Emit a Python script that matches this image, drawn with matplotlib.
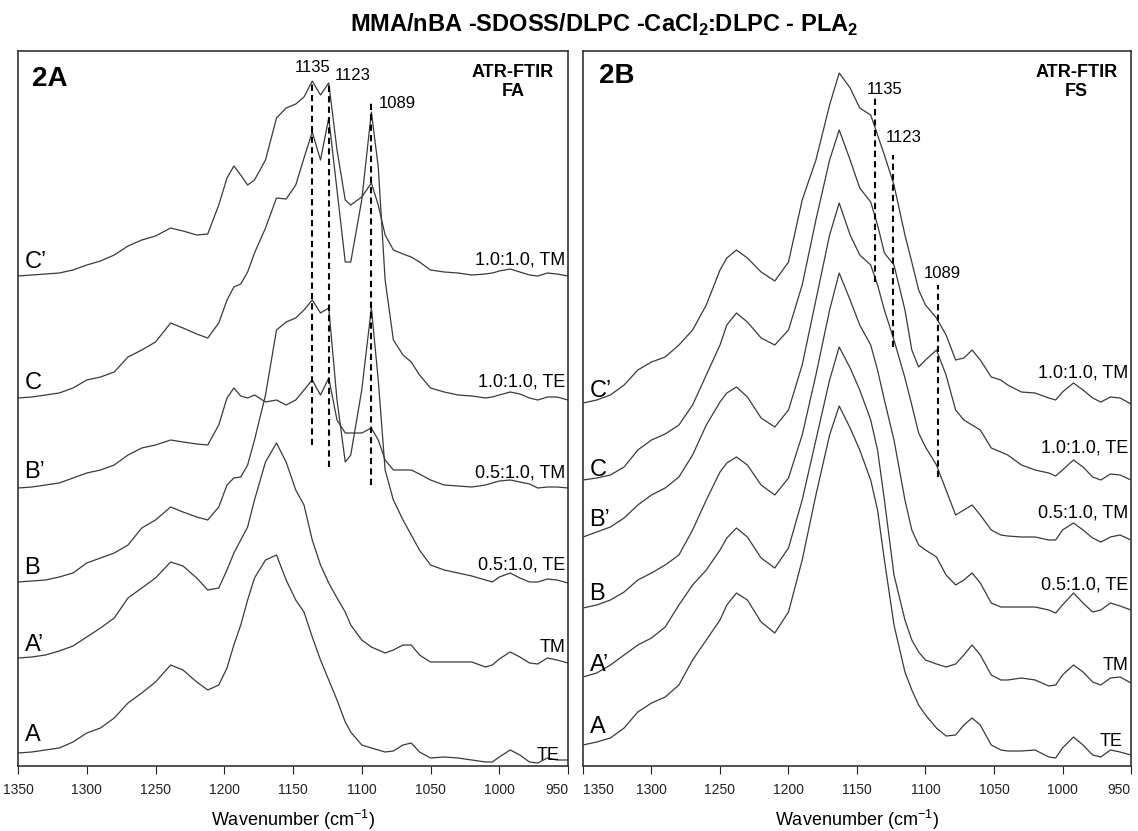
import matplotlib.pyplot as plt

plt.rcParams['font.family'] = ['Liberation Sans', 'DejaVu Sans']
plt.rcParams['mathtext.fontset'] = 'custom'
plt.rcParams['mathtext.rm'] = 'Liberation Sans'
plt.rcParams['mathtext.bf'] = 'Liberation Sans:bold'

# ---- panel 2A (ATR-FTIR, FA side) ----
wn_a = [1350, 1340, 1330, 1320, 1310, 1300, 1290, 1280, 1270, 1260,
        1250, 1239, 1230, 1220, 1212, 1204, 1198, 1193, 1188, 1183,
        1178, 1170, 1162, 1155, 1148, 1142, 1136, 1130, 1124, 1118,
        1112, 1108, 1100, 1093, 1088, 1083, 1077, 1070, 1064, 1058,
        1050, 1040, 1030, 1020, 1010, 1005, 1000, 992, 985, 978,
        972, 965, 958, 950]

a_C2 = [0, 1, 2, 3, 6, 11, 15, 21, 30, 36,
        40, 48, 45, 41, 42, 71, 98, 110, 101, 91,
        96, 116, 158, 168, 172, 179, 195, 181, 193, 126,
        76, 71, 79, 93, 71, 41, 26, 22, 19, 14,
        6, 4, 3, 1, 2, 3, 5, 7, 4, 1,
        0, 3, 2, 0]
a_C = [0, 1, 3, 5, 10, 18, 21, 26, 41, 48,
       56, 75, 70, 64, 60, 75, 98, 111, 114, 126,
       145, 170, 200, 199, 213, 240, 266, 238, 280, 208,
       136, 136, 198, 286, 231, 118, 58, 43, 36, 23,
       10, 6, 3, 2, 0, 1, 3, 6, 4, 0,
       -2, 1, 1, -2]
a_B2 = [0, 1, 3, 5, 10, 15, 18, 23, 33, 40,
        43, 48, 46, 44, 43, 63, 90, 100, 92, 90,
        93, 86, 88, 83, 88, 98, 108, 93, 110, 68,
        55, 55, 55, 60, 48, 28, 18, 18, 18, 14,
        8, 3, 2, 1, 3, 5, 7, 8, 6, 4,
        0, 1, 1, 0]
a_B = [0, 1, 2, 5, 9, 19, 24, 29, 37, 54,
       62, 75, 70, 65, 62, 75, 97, 104, 105, 117,
       142, 187, 252, 260, 264, 272, 282, 269, 274, 182,
       120, 127, 192, 274, 202, 112, 82, 62, 47, 32,
       17, 12, 9, 6, 2, 0, 5, 9, 4, 0,
       0, 3, 2, -1]
a_A2 = [0, 1, 3, 7, 12, 21, 30, 40, 60, 70,
        80, 96, 92, 80, 68, 70, 88, 105, 118, 131,
        158, 196, 215, 196, 168, 153, 118, 93, 75, 60,
        46, 33, 18, 11, 8, 5, 8, 13, 13, 3,
        -4, -4, -4, -4, -9, -7, -1, 6, 1, -5,
        -6, 0, -2, -5]
a_A = [0, 1, 3, 5, 11, 20, 25, 35, 50, 60,
       71, 88, 83, 71, 63, 68, 85, 108, 128, 153,
       175, 193, 198, 173, 153, 141, 116, 93, 73, 53,
       31, 21, 8, 5, 3, 1, 2, 8, 10, 1,
       -5, -4, -5, -7, -9, -9, -4, 3, -2, -9,
       -10, -5, -7, -7]

# ---- panel 2B (ATR-FTIR, FS side) ----
wn_b = [1350, 1340, 1330, 1320, 1310, 1300, 1290, 1280, 1270, 1260,
        1250, 1245, 1238, 1230, 1220, 1210, 1200, 1190, 1180, 1170,
        1163, 1155, 1148, 1140, 1135, 1130, 1123, 1115, 1110, 1105,
        1100, 1092, 1085, 1078, 1072, 1066, 1060, 1052, 1045, 1040,
        1030, 1020, 1010, 1005, 1000, 992, 985, 978, 972, 965,
        958, 950]

b_C2 = [0, 3, 8, 18, 33, 41, 46, 58, 73, 98,
        133, 145, 153, 145, 131, 122, 141, 203, 243, 298,
        330, 315, 295, 288, 268, 248, 218, 168, 141, 113,
        98, 85, 68, 43, 45, 53, 43, 26, 23, 18,
        11, 10, 5, 3, 11, 20, 13, 5, 1, 6,
        5, -1]
b_C = [0, 2, 5, 13, 30, 40, 46, 55, 75, 105,
       135, 155, 167, 158, 142, 135, 150, 195, 260, 320,
       350, 320, 292, 278, 255, 227, 215, 170, 130, 113,
       120, 130, 105, 70, 60, 55, 50, 32, 28, 25,
       15, 10, 7, 4, 10, 20, 13, 3, 0, 6,
       5, 0]
b_B2 = [0, 5, 10, 19, 32, 42, 49, 60, 82, 112,
        135, 144, 150, 140, 119, 110, 127, 172, 237, 302,
        334, 302, 282, 272, 252, 227, 197, 159, 132, 104,
        90, 72, 47, 22, 27, 32, 22, 7, 2, 1,
        0, 0, -3, -3, 7, 14, 7, -1, -5, 0,
        2, -3]
b_B = [0, 3, 8, 16, 28, 35, 43, 53, 78, 108,
       136, 145, 151, 143, 123, 113, 130, 173, 233, 298,
       335, 308, 283, 263, 238, 208, 168, 108, 78, 63,
       58, 51, 33, 23, 28, 35, 25, 5, 1, 1,
       1, 1, -2, -5, 3, 15, 5, -4, -2, 5,
       2, -2]
b_A2 = [0, 4, 12, 22, 32, 39, 50, 72, 92, 107,
        127, 139, 149, 140, 119, 109, 129, 177, 237, 297,
        330, 309, 287, 257, 227, 177, 102, 57, 37, 25,
        17, 13, 10, 13, 22, 32, 22, 2, -3, -3,
        -1, -3, -9, -8, 2, 12, 5, -5, -8, -1,
        0, -6]
b_A = [0, 3, 7, 17, 33, 42, 48, 60, 85, 105,
       125, 140, 152, 145, 123, 112, 133, 185, 250, 310,
       339, 317, 295, 265, 235, 185, 120, 73, 55, 40,
       30, 17, 9, 10, 20, 27, 20, 0, -5, -6,
       -6, -5, -12, -13, -3, 8, 0, -10, -12, -5,
       -7, -10]

# stacking offsets (bottom to top: A, A', B, B', C, C')
off_a = [13, 108, 184, 278, 368, 490]
off_b = [21, 89, 158, 229, 286, 363]
spec_a = [a_A, a_A2, a_B, a_B2, a_C, a_C2]
spec_b = [b_A, b_A2, b_B, b_B2, b_C, b_C2]
names = ['A', 'A\u2019', 'B', 'B\u2019', 'C', 'C\u2019']
conds = ['TE', 'TM', '0.5:1.0, TE', '0.5:1.0, TM', '1.0:1.0, TE', '1.0:1.0, TM']

marks = ['1135', '1123', '1089']
mark_x_a = [1136, 1123.5, 1093]
mark_y_a = [(321, 685), (299, 683), (281, 664)]
mark_x_b = [1137, 1124, 1091]
mark_y_b = [(484, 668), (419, 611), (289, 481)]

fig = plt.figure(figsize=(11.38, 8.31), dpi=100)
ax_a = fig.add_axes([18/1138, 65/831, 550/1138, 715/831])
ax_b = fig.add_axes([583/1138, 65/831, 548/1138, 715/831])

line_col = '#3a3a3a'
for ax, wn, specs, offs in [(ax_a, wn_a, spec_a, off_a), (ax_b, wn_b, spec_b, off_b)]:
    for s, o in zip(specs, offs):
        ax.plot(wn, [v + o for v in s], color=line_col, lw=0.9)
    ax.set_xlim(1350, 950)
    ax.set_ylim(0, 715)
    ax.set_yticks([])
    ax.set_xticks(range(1350, 949, -50))
    ax.tick_params(axis='x', direction='out', length=6, width=0.8, pad=6,
                   labelsize=10, colors='#222222')
    for sp in ax.spines.values():
        sp.set_color('#333333')
        sp.set_linewidth(1.2)
    ax.set_xlabel('Wavenumber (cm$^{-1}$)', fontsize=13, labelpad=8)

# keep the touching 950 / 1350 labels apart and inside the figure
ax_a.get_xticklabels()[-1].set_ha('right')
ax_b.get_xticklabels()[0].set_ha('left')
ax_b.get_xticklabels()[-1].set_ha('right')

# dashed marker lines
for x, (y0, y1) in zip(mark_x_a, mark_y_a):
    ax_a.plot([x, x], [y0, y1], color='black', lw=1.5, ls=(0, (3, 2)))
for x, (y0, y1) in zip(mark_x_b, mark_y_b):
    ax_b.plot([x, x], [y0, y1], color='black', lw=1.5, ls=(0, (3, 2)))

ax_a.text(1136, 698, marks[0], ha='center', va='center', fontsize=12)
ax_a.text(1119.5, 690, marks[1], ha='left', va='center', fontsize=12)
ax_a.text(1088, 662, marks[2], ha='left', va='center', fontsize=12)
ax_b.text(1143, 676, marks[0], ha='left', va='center', fontsize=12)
ax_b.text(1129, 629, marks[1], ha='left', va='center', fontsize=12)
ax_b.text(1101, 493, marks[2], ha='left', va='center', fontsize=12)

# curve labels
name_y_a = [31, 121, 198, 294, 383, 504]
cond_y_a = [11, 119, 201, 293, 384, 506]
name_y_b = [39, 101, 172, 246, 296, 375]
cond_y_b = [24, 101, 181, 253, 318, 393]
for ax, ny, cy in [(ax_a, name_y_a, cond_y_a), (ax_b, name_y_b, cond_y_b)]:
    tr = ax.get_yaxis_transform()
    for i in range(6):
        ax.text(0.012, ny[i], names[i], transform=tr, ha='left', va='center', fontsize=17)
        xr = 0.985 if i == 0 else 0.995
        ax.text(xr, cy[i], conds[i], transform=tr, ha='right', va='center', fontsize=13)

ax_a.text(0.025, 0.961, '2A', transform=ax_a.transAxes, fontsize=20, fontweight='bold', va='center')
ax_b.text(0.029, 0.965, '2B', transform=ax_b.transAxes, fontsize=20, fontweight='bold', va='center')
ax_a.text(0.90, 0.982, 'ATR-FTIR\nFA', transform=ax_a.transAxes, fontsize=13,
          fontweight='bold', ha='center', va='top', linespacing=1.2)
ax_b.text(0.90, 0.982, 'ATR-FTIR\nFS', transform=ax_b.transAxes, fontsize=13,
          fontweight='bold', ha='center', va='top', linespacing=1.2)

fig.text(0.531, 1 - 25/831, r'MMA/nBA -SDOSS/DLPC -CaCl$_\mathbf{2}$:DLPC - PLA$_\mathbf{2}$',
         ha='center', va='center', fontsize=17, fontweight='bold')

fig.savefig('out.png', dpi=100)
